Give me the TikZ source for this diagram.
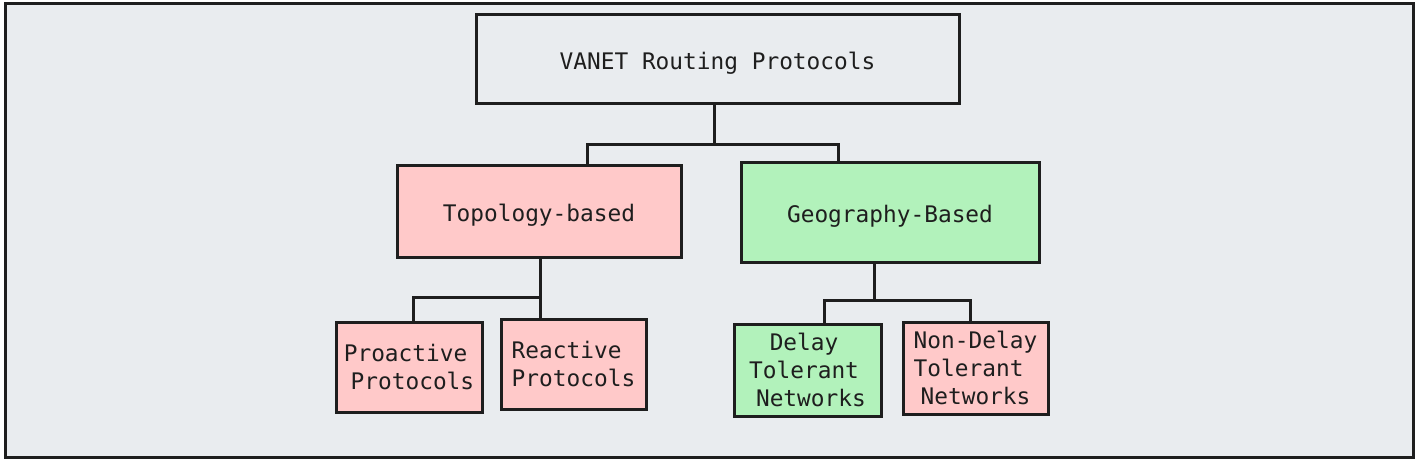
\documentclass[tikz,border=0pt]{standalone}
\usepackage{fontspec}
\setmonofont{DejaVu Sans Mono}
\definecolor{bgc}{HTML}{E9ECEF}
\definecolor{inkc}{HTML}{1E1E1E}
\definecolor{pinkc}{HTML}{FFC9C9}
\definecolor{greenc}{HTML}{B2F2BB}
\newcommand\hc{\hspace*{0.301em}}
\tikzset{
  boxst/.style={draw=inkc, line width=3pt, inner sep=0pt, font=\ttfamily\fontsize{22.8}{28}\selectfont, text=inkc, align=center},
  onest/.style={text height=19.6pt, text depth=0pt},
  linkst/.style={draw=inkc, line width=3pt, line cap=rect},
}
\begin{document}
\begin{tikzpicture}[x=1pt,y=-1pt]
\useasboundingbox (0,0) rectangle (1419,465);
\fill[white] (0,0) rectangle (1419,465);
\node[draw=inkc, fill=bgc, line width=3pt, minimum width=1408pt, minimum height=453pt, inner sep=0pt] (frame) at (709,230.5) {};

\node[boxst, onest, fill=bgc, minimum width=483pt, minimum height=89pt] (root) at (717.5,59.5) {VANET Routing Protocols};
\node[boxst, onest, fill=pinkc, minimum width=284pt, minimum height=91pt] (topo) at (539,211.5) {Topology-based};
\node[boxst, onest, fill=greenc, minimum width=298pt, minimum height=99pt] (geo) at (890,212.5) {Geography-Based};

\node[boxst, fill=pinkc, minimum width=146pt, minimum height=90pt, align=left] (pro) at (409,367) {Proactive\\\hc Protocols};
\node[boxst, fill=pinkc, minimum width=145pt, minimum height=90pt, align=left] (rea) at (573.5,364) {Reactive\\Protocols};
\node[boxst, fill=greenc, minimum width=147pt, minimum height=92pt, align=left] (del) at (807.5,370) {\hc\hc\hc Delay\\Tolerant\\\hc Networks};
\node[boxst, fill=pinkc, minimum width=145pt, minimum height=92pt, align=left] (ndel) at (975.5,368) {Non-Delay\\Tolerant\\\hc Networks};

\coordinate (j1) at (714,145);
\coordinate (j2) at (540,297);
\coordinate (j3) at (874,300);

\draw[linkst] (root.south -| j1) -- (j1);
\draw[linkst] (j1) -| (587,0 |- topo.north);
\draw[linkst] (j1) -| (838,0 |- geo.north);

\draw[linkst] (topo.south -| j2) -- (j2);
\draw[linkst] (j2) -| (413,0 |- pro.north);
\draw[linkst] (j2) -- (j2 |- rea.north);

\draw[linkst] (geo.south -| j3) -- (j3);
\draw[linkst] (j3) -| (824,0 |- del.north);
\draw[linkst] (j3) -| (970,0 |- ndel.north);
\end{tikzpicture}
\end{document}
